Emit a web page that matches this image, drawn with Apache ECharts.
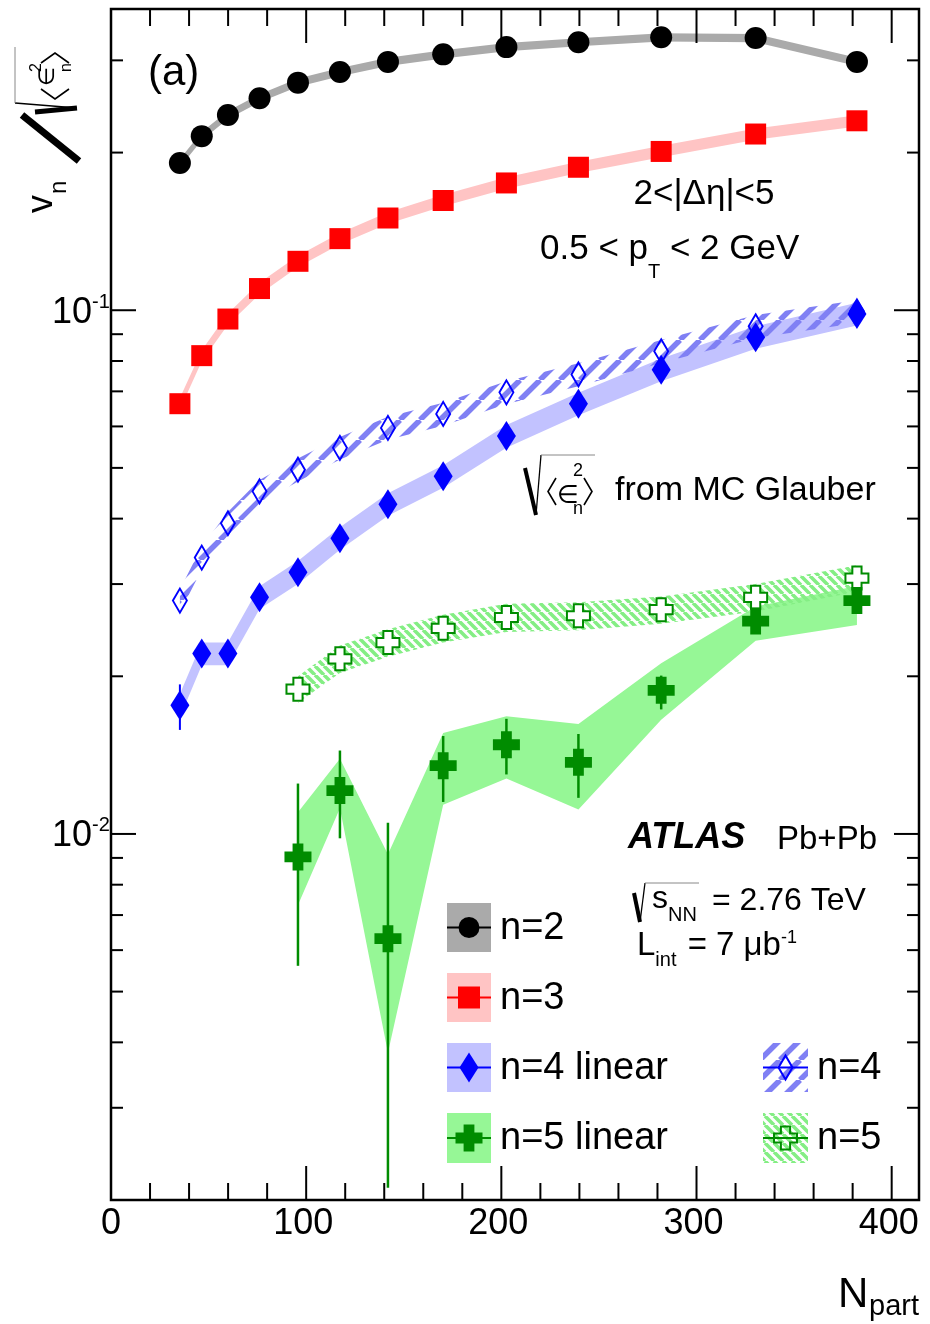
<!DOCTYPE html>
<html><head><meta charset="utf-8">
<script src="https://cdn.jsdelivr.net/npm/echarts@6/dist/echarts.min.js"></script>
<style>html,body{margin:0;padding:0;background:#fff}#c{width:930px;height:1324px}</style>
</head><body><div id="c"></div>
<script>
// ---------------- data ----------------
const npart  = [35.3, 46.5, 59.9, 76.1, 95.8, 117.3, 141.9, 170.2, 202.6, 239.5, 281.9, 330.3, 382.2];
const npart5 = [95.8, 117.3, 141.9, 170.2, 202.6, 239.5, 281.9, 330.3, 382.2];

const v2   = [0.191, 0.215, 0.236, 0.254, 0.272, 0.285, 0.298, 0.308, 0.318, 0.325, 0.332, 0.331, 0.298];
const v2Lo = [0.1876, 0.2111, 0.2318, 0.2494, 0.2671, 0.2799, 0.2926, 0.3025, 0.3123, 0.3192, 0.3260, 0.3250, 0.2926];
const v2Hi = [0.1944, 0.2189, 0.2402, 0.2586, 0.2769, 0.2901, 0.3034, 0.3135, 0.3237, 0.3308, 0.3380, 0.3370, 0.3034];

const v3   = [0.0663, 0.0819, 0.0962, 0.110, 0.124, 0.137, 0.150, 0.162, 0.175, 0.1875, 0.201, 0.217, 0.230];
const v3Lo = [0.0646, 0.0799, 0.0938, 0.1073, 0.1209, 0.1336, 0.1463, 0.1580, 0.1706, 0.1828, 0.1960, 0.2116, 0.2243];
const v3Hi = [0.0680, 0.0839, 0.0986, 0.1128, 0.1271, 0.1404, 0.1538, 0.1661, 0.1794, 0.1922, 0.2060, 0.2224, 0.2358];

const v4   = [0.0176, 0.0221, 0.0221, 0.0283, 0.0316, 0.0367, 0.0426, 0.0482, 0.0575, 0.0663, 0.0770, 0.0888, 0.0984];
const v4Lo = [0.0167, 0.0210, 0.0210, 0.0269, 0.0300, 0.0349, 0.0405, 0.0458, 0.0546, 0.0630, 0.0732, 0.0844, 0.0935];
const v4Hi = [0.0185, 0.0232, 0.0232, 0.0297, 0.0332, 0.0385, 0.0447, 0.0506, 0.0604, 0.0696, 0.0809, 0.0932, 0.1033];
const v4ErrLo = [0.0158, 0.0219, 0.0219, 0.0281, 0.0314, 0.0365, 0.0424, 0.0480, 0.0573, 0.0661, 0.0768, 0.0886, 0.0982];
const v4ErrHi = [0.0193, 0.0223, 0.0223, 0.0285, 0.0318, 0.0369, 0.0428, 0.0484, 0.0577, 0.0665, 0.0772, 0.0890, 0.0986];

const g4   = [0.0279, 0.0337, 0.0392, 0.0451, 0.0496, 0.0546, 0.0596, 0.0634, 0.0697, 0.0754, 0.0835, 0.0932, 0.0995];
const g4Lo = [0.0265, 0.0320, 0.0372, 0.0428, 0.0471, 0.0519, 0.0566, 0.0602, 0.0662, 0.0716, 0.0793, 0.0885, 0.0945];
const g4Hi = [0.0293, 0.0354, 0.0412, 0.0474, 0.0521, 0.0573, 0.0626, 0.0666, 0.0732, 0.0792, 0.0877, 0.0979, 0.1045];

const v5    = [0.00904, 0.0121, 0.00631, 0.0135, 0.0148, 0.0137, 0.0188, 0.0255, 0.0279];
const v5ErrLo = [0.00560, 0.00981, 0.00211, 0.01151, 0.01299, 0.01172, 0.01729, 0.02416, 0.02630];
const v5ErrHi = [0.01248, 0.01443, 0.01051, 0.01538, 0.01659, 0.01552, 0.02006, 0.02674, 0.02894];
const v5Lo  = [0.00732, 0.01120, 0.00382, 0.01137, 0.01276, 0.01114, 0.01653, 0.02338, 0.02505];
const v5Hi  = [0.01100, 0.01392, 0.00915, 0.01558, 0.01678, 0.01622, 0.02118, 0.02718, 0.02976];

const g5   = [0.0189, 0.0216, 0.0232, 0.0247, 0.0259, 0.0261, 0.0268, 0.0283, 0.0308];
const g5Lo = [0.0178, 0.0203, 0.0218, 0.0232, 0.0243, 0.0245, 0.0252, 0.0266, 0.0290];
const g5Hi = [0.0200, 0.0229, 0.0246, 0.0262, 0.0275, 0.0277, 0.0284, 0.0300, 0.0326];

const xTicks = [0,20,40,60,80,100,120,140,160,180,200,220,240,260,280,300,320,340,360,380,400];
const xLabelValues = [0, 100, 200, 300, 400];
const xLabels = ['0', '100', '200', '300', '400'];
const yTicks = [0.002,0.003,0.004,0.005,0.006,0.007,0.008,0.009,0.01,0.02,0.03,0.04,0.05,0.06,0.07,0.08,0.09,0.1,0.2,0.3];
const yLabelValues = [0.01, 0.1];
const yLabelExp = ['-2', '-1'];

const X_MIN = 0, X_MAX = 414, Y_MIN = 0.002, Y_MAX = 0.376;

// ---------------- helpers ----------------
const FAM = '"Liberation Sans", Arial, Helvetica, sans-serif';
const mctx = document.createElement('canvas').getContext('2d');
function fstr(size, o) { o = o || {}; return (o.it ? 'italic ' : '') + (o.b ? 'bold ' : '') + size + 'px ' + (o.fam || FAM); }
function midOff(font, size) {
  mctx.font = font; const m = mctx.measureText('Hg');
  if (m.fontBoundingBoxAscent !== undefined) return (m.fontBoundingBoxAscent - m.fontBoundingBoxDescent) / 2;
  return 0.3465 * size;
}
function W(text, size, o) { mctx.font = fstr(size, o); return mctx.measureText(text).width; }
function T(text, x, base, size, o) {
  o = o || {};
  const font = fstr(size, o);
  const al = o.align || 'left';
  return { type: 'text', x: x, y: base - midOff(font, size), silent: true, z: 100,
    style: { text: text, font: font, fill: o.color || '#000', textAlign: al, align: al, textVerticalAlign: 'middle', verticalAlign: 'middle' } };
}
function seq(x, base, pieces) {
  const out = []; let cx = x;
  for (const p of pieces) { const o = p[3] || {}; out.push(T(p[0], cx, base + (p[2] || 0), p[1], o)); cx += W(p[0], p[1], o) + (o.dx || 0); }
  return out;
}
function L(x1, y1, x2, y2, w, c) { return { type: 'line', silent: true, z: 100, shape: { x1, y1, x2, y2 }, style: { stroke: c || '#000', lineWidth: w || 1 } }; }
function PL(pts, w, c) { return { type: 'polyline', silent: true, z: 100, shape: { points: pts }, style: { stroke: c || '#000', lineWidth: w || 1, fill: null } }; }
function hatch(color, s, w, dir) {
  const c = document.createElement('canvas'); c.width = s; c.height = s;
  const x = c.getContext('2d'); x.strokeStyle = color; x.lineWidth = w; x.lineCap = 'butt';
  x.beginPath();
  for (let k = -1; k <= 1; k++) {
    if (dir === '/') { x.moveTo(k * s, s); x.lineTo(k * s + s, 0); }
    else { x.moveTo(k * s, 0); x.lineTo(k * s + s, s); }
  }
  x.stroke();
  return { image: c, repeat: 'repeat' };
}
const hatch4 = hatch('#8080f4', 20, 5.5, '/');
const hatch5 = hatch('#84ee84', 9, 3.6, '\\');

const CROSS = 'path://M1.5,0L3.5,0L3.5,1.5L5,1.5L5,3.5L3.5,3.5L3.5,5L1.5,5L1.5,3.5L0,3.5L0,1.5L1.5,1.5Z';
const C_BLUE = '#0000ff', C_RED = '#ff0000', C_GREEN = '#008c00';

function bandSeries(xs, lo, hi, fill, z) {
  return { type: 'custom', coordinateSystem: 'cartesian2d', z: z, silent: true, animation: false,
    data: [[xs[0], hi[0]]],
    renderItem: function (params, api) {
      const pts = [];
      for (let i = 0; i < xs.length; i++) pts.push(api.coord([xs[i], hi[i]]));
      for (let i = xs.length - 1; i >= 0; i--) pts.push(api.coord([xs[i], lo[i]]));
      return { type: 'polygon', shape: { points: pts }, style: { fill: fill, stroke: null } };
    } };
}
function errSeries(xs, lo, hi, color, w, z) {
  return { type: 'custom', coordinateSystem: 'cartesian2d', z: z, silent: true, animation: false,
    data: xs.map((x, i) => [x, lo[i], hi[i]]),
    renderItem: function (params, api) {
      const a = api.coord([api.value(0), api.value(1)]), b = api.coord([api.value(0), api.value(2)]);
      return { type: 'line', shape: { x1: a[0], y1: a[1], x2: b[0], y2: b[1] }, style: { stroke: color, lineWidth: w } };
    } };
}
function pts(xs, ys) { return xs.map((x, i) => [x, ys[i]]); }

// ---------------- chart ----------------
const chart = echarts.init(document.getElementById('c'), null, { renderer: 'canvas' });

const series = [
  bandSeries(npart, v2Lo, v2Hi, '#aaaaaa', 1),
  bandSeries(npart, v3Lo, v3Hi, '#ffc4c4', 1),
  bandSeries(npart, v4Lo, v4Hi, '#c2c2ff', 1),
  bandSeries(npart5, v5Lo, v5Hi, '#96f796', 1),
  bandSeries(npart, g4Lo, g4Hi, hatch4, 2),
  bandSeries(npart5, g5Lo, g5Hi, hatch5, 2),
  errSeries(npart.slice(0, 1), v4ErrLo.slice(0, 1), v4ErrHi.slice(0, 1), C_BLUE, 2, 3),
  errSeries(npart5, v5ErrLo, v5ErrHi, C_GREEN, 2.5, 3),
  { type: 'scatter', z: 5, data: pts(npart, v2), symbol: 'circle', symbolSize: 22, itemStyle: { color: '#000', opacity: 1 } },
  { type: 'scatter', z: 5, data: pts(npart, v3), symbol: 'rect', symbolSize: 21, itemStyle: { color: C_RED, opacity: 1 } },
  { type: 'scatter', z: 5, data: pts(npart, g4), symbol: 'diamond', symbolSize: [14, 24], itemStyle: { color: 'rgba(0,0,0,0)', borderColor: C_BLUE, borderWidth: 2, opacity: 1 } },
  { type: 'scatter', z: 6, data: pts(npart, v4), symbol: 'diamond', symbolSize: [19, 30], itemStyle: { color: C_BLUE, opacity: 1 } },
  { type: 'scatter', z: 5, data: pts(npart5, g5), symbol: CROSS, symbolSize: 23, itemStyle: { color: '#ffffff', borderColor: C_GREEN, borderWidth: 2, opacity: 1 } },
  { type: 'scatter', z: 6, data: pts(npart5, v5), symbol: CROSS, symbolSize: 27, itemStyle: { color: C_GREEN, opacity: 1 } },
  // x ticks + labels
  { type: 'custom', coordinateSystem: 'cartesian2d', z: 10, silent: true, animation: false,
    data: xTicks.map(v => [v, Y_MIN]),
    renderItem: function (params, api) {
      const v = api.value(0); const major = xLabelValues.indexOf(v) >= 0;
      const len = major ? 34 : 17;
      const b = api.coord([v, Y_MIN]), t = api.coord([v, Y_MAX]);
      const ch = [
        { type: 'line', shape: { x1: b[0], y1: b[1], x2: b[0], y2: b[1] - len }, style: { stroke: '#000', lineWidth: 2 } },
        { type: 'line', shape: { x1: t[0], y1: t[1], x2: t[0], y2: t[1] + len }, style: { stroke: '#000', lineWidth: 2 } }
      ];
      if (major) {
        const lab = xLabels[xLabelValues.indexOf(v)];
        const f = fstr(36);
        ch.push({ type: 'text', x: b[0] - (v === 0 ? 0 : 3), y: b[1] + 37 - midOff(f, 36),
          style: { text: lab, font: f, fill: '#000', textAlign: 'center', align: 'center', textVerticalAlign: 'middle', verticalAlign: 'middle' } });
      }
      return { type: 'group', children: ch };
    } },
  // y ticks + labels
  { type: 'custom', coordinateSystem: 'cartesian2d', z: 10, silent: true, animation: false,
    data: yTicks.map(v => [X_MIN, v]),
    renderItem: function (params, api) {
      const v = api.value(1); const li = yLabelValues.findIndex(u => Math.abs(u - v) < 1e-9);
      const major = li >= 0; const len = major ? 25 : 12;
      const l = api.coord([X_MIN, v]), r = api.coord([X_MAX, v]);
      const ch = [
        { type: 'line', shape: { x1: l[0], y1: l[1], x2: l[0] + len, y2: l[1] }, style: { stroke: '#000', lineWidth: 2 } },
        { type: 'line', shape: { x1: r[0], y1: r[1], x2: r[0] - len, y2: r[1] }, style: { stroke: '#000', lineWidth: 2 } }
      ];
      if (major) {
        const f1 = fstr(36), f2 = fstr(20);
        ch.push({ type: 'text', x: l[0] - 19, y: l[1] + 15 - midOff(f1, 36),
          style: { text: '10', font: f1, fill: '#000', textAlign: 'right', align: 'right', textVerticalAlign: 'middle', verticalAlign: 'middle' } });
        ch.push({ type: 'text', x: l[0] - 19, y: l[1] - 1 - midOff(f2, 20),
          style: { text: yLabelExp[li], font: f2, fill: '#000', textAlign: 'left', align: 'left', textVerticalAlign: 'middle', verticalAlign: 'middle' } });
      }
      return { type: 'group', children: ch };
    } }
];

// ---------------- annotations ----------------
const g = [];
g.push(T('(a)', 148, 88, 42));
g.push(T('2<|Δη|<5', 704, 207, 35, { align: 'center' }));
g.push(...seq(540, 262, [['0.5 < p', 35], ['T', 20, 17], [' < 2 GeV', 35]]));
// sqrt<eps^2> from MC Glauber
g.push(L(525, 468, 536, 515, 4));
g.push(L(536, 515, 541, 455, 1.3));
g.push(L(541, 455, 595, 455, 1, '#888'));
g.push(PL([[556, 478], [548, 491.5], [556, 505]], 1.6));
g.push(T('∈', 557, 505, 25, { fam: '"DejaVu Sans", sans-serif' }));
g.push(T('2', 573, 477, 18));
g.push(T('n', 573, 515, 18));
g.push(PL([[584, 478], [592, 491.5], [584, 505]], 1.6));
g.push(T('from MC Glauber', 615, 503, 34));
// ATLAS
g.push(T('ATLAS', 628, 851, 36, { b: true, it: true }));
g.push(T('Pb+Pb', 777, 851, 33));
g.push(L(634, 893, 640, 922, 4));
g.push(L(640, 922, 645, 883, 1.3));
g.push(L(645, 883, 699, 883, 1, '#888'));
g.push(T('s', 652, 910, 32));
g.push(T('NN', 668, 922, 20));
g.push(T('= 2.76 TeV', 712, 912, 32));
g.push(...seq(637, 957, [['L', 33], ['int', 20, 10, { dx: 2 }], [' = 7 μb', 33], ['-1', 18, -13]]));
// x title
g.push(T('N', 838, 1310, 42));
g.push(T('part', 869, 1317, 29));

// y title (rotated)
const yt = [];
yt.push(T('v', 0, 0, 36));
yt.push(T('n', 19, 13, 24));
yt.push(L(52, 24, 98, -33, 7));
yt.push(L(101, -20, 105, 22, 5));
yt.push(L(105, 22, 110, -40, 1.3));
yt.push(L(110, -40, 166, -40, 1, '#888'));
yt.push(PL([[124, -14], [114, 0], [124, 14]], 1.6));
yt.push(T('∈', 127, 1, 22, { fam: '"DejaVu Sans", sans-serif' }));
yt.push(T('2', 141, -13, 16));
yt.push(T('n', 141, 17, 16));
yt.push(PL([[150, -14], [160, 0], [150, 14]], 1.6));
g.push({ type: 'group', x: 55, y: 213, rotation: Math.PI / 2, children: yt });

// legend
function rect(x, y, w, h, fill) { return { type: 'rect', silent: true, z: 100, shape: { x, y, width: w, height: h }, style: { fill: fill, stroke: null } }; }
function poly(p, fill, stroke, w) { return { type: 'polygon', silent: true, z: 100, shape: { points: p }, style: { fill: fill, stroke: stroke || null, lineWidth: w || 0 } }; }
function crossPts(cx, cy, s) { const a = s * 0.2, h = s / 2; return [[cx - a, cy - h], [cx + a, cy - h], [cx + a, cy - a], [cx + h, cy - a], [cx + h, cy + a], [cx + a, cy + a], [cx + a, cy + h], [cx - a, cy + h], [cx - a, cy + a], [cx - h, cy + a], [cx - h, cy - a], [cx - a, cy - a]]; }
function diaPts(cx, cy, w, h) { return [[cx, cy - h / 2], [cx + w / 2, cy], [cx, cy + h / 2], [cx - w / 2, cy]]; }
const LX0 = 447, LX1 = 491, LC = 469, RX0 = 763, RX1 = 808, RC = 785.5;
const rows = [[903, 952], [973, 1022], [1043, 1092], [1113, 1163]];
const rc = rows.map(r => (r[0] + r[1]) / 2);
g.push(rect(LX0, rows[0][0], LX1 - LX0, rows[0][1] - rows[0][0], '#aaaaaa'));
g.push(L(LX0, rc[0], LX1, rc[0], 2, '#000'));
g.push({ type: 'circle', silent: true, z: 100, shape: { cx: LC, cy: rc[0], r: 10.5 }, style: { fill: '#000' } });
g.push(rect(LX0, rows[1][0], LX1 - LX0, rows[1][1] - rows[1][0], '#ffc4c4'));
g.push(L(LX0, rc[1], LX1, rc[1], 2, C_RED));
g.push(rect(LC - 11, rc[1] - 11, 22, 22, C_RED));
g.push(rect(LX0, rows[2][0], LX1 - LX0, rows[2][1] - rows[2][0], '#c2c2ff'));
g.push(L(LX0, rc[2], LX1, rc[2], 2, C_BLUE));
g.push(poly(diaPts(LC, rc[2], 19, 30), C_BLUE));
g.push(rect(LX0, rows[3][0], LX1 - LX0, rows[3][1] - rows[3][0], '#96f796'));
g.push(L(LX0, rc[3], LX1, rc[3], 2, C_GREEN));
g.push(poly(crossPts(LC, rc[3], 27), C_GREEN));
g.push(rect(RX0, rows[2][0], RX1 - RX0, rows[2][1] - rows[2][0], hatch4));
g.push(L(RX0, rc[2], RX1, rc[2], 2, C_BLUE));
g.push(poly(diaPts(RC, rc[2], 14, 24), null, C_BLUE, 2));
g.push(rect(RX0, rows[3][0], RX1 - RX0, rows[3][1] - rows[3][0], hatch5));
g.push(L(RX0, rc[3], RX1, rc[3], 2, C_GREEN));
g.push(poly(crossPts(RC, rc[3], 23), null, C_GREEN, 2));
g.push(T('n=2', 500, 942, 38));
g.push(T('n=3', 500, 1012, 38));
g.push(T('n=4 linear', 500, 1082, 38));
g.push(T('n=5 linear', 500, 1152, 38));
g.push(T('n=4', 817, 1082, 38));
g.push(T('n=5', 817, 1152, 38));

chart.setOption({
  animation: false,
  backgroundColor: '#ffffff',
  grid: { left: 111, right: 11, top: 9, bottom: 124, show: true, borderColor: '#000', borderWidth: 2.5, backgroundColor: 'rgba(0,0,0,0)' },
  xAxis: { type: 'value', min: X_MIN, max: X_MAX, axisLine: { show: false }, axisTick: { show: false }, axisLabel: { show: false }, splitLine: { show: false } },
  yAxis: { type: 'log', logBase: 10, min: Y_MIN, max: Y_MAX, axisLine: { show: false }, axisTick: { show: false }, axisLabel: { show: false }, splitLine: { show: false } },
  series: series,
  graphic: { elements: g }
});
</script></body></html>
